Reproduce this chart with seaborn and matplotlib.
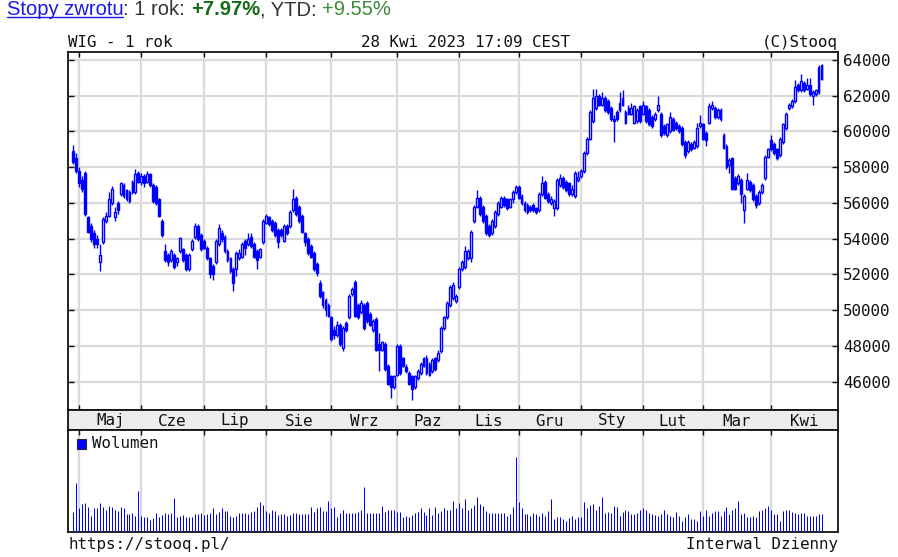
import numpy as np
import matplotlib
matplotlib.use("Agg")
import matplotlib.pyplot as plt
from matplotlib.lines import Line2D
from matplotlib.patches import Rectangle
import seaborn as sns

sns.set_theme(style="white")
plt.rcParams['font.family'] = ['DejaVu Sans Mono']

# ---------------- data ----------------
months = ["Maj", "Cze", "Lip", "Sie", "Wrz", "Paz", "Lis", "Gru", "Sty", "Lut", "Mar", "Kwi"]
month_start_idx = [2, 23, 44, 65, 87, 109, 130, 150, 171, 192, 212, 235]
price_ticks = [46000, 48000, 50000, 52000, 54000, 56000, 58000, 60000, 62000, 64000]

opens = [
    58900, 58500, 57800, 57300, 57700, 55200, 54700, 54300, 54000, 52700,
    53800, 55000, 55300, 56000, 55200, 56000, 56500, 57000, 56700, 56600,
    57200, 56600, 57700, 57200, 57500, 57200, 57600, 57000, 56900, 56200,
    55000, 53300, 53100, 52800, 53100, 52700, 53300, 53400, 53100, 52300,
    53400, 54100, 54700, 54200, 53900, 53500, 52900, 52500, 52700, 53700,
    54300, 54100, 53300, 52900, 52300, 52300, 52900, 53000, 53900, 53700,
    54100, 53700, 53300, 53000, 53800, 54900, 55200, 55000, 54900, 54500,
    54500, 53900, 54700, 54700, 55600, 56300, 55800, 55300, 54300, 54000,
    53600, 53200, 52600, 51500, 51000, 50600, 50300, 49600, 48900, 48600,
    49200, 47900, 49300, 49600, 50900, 51600, 50300, 49900, 50300, 50400,
    49800, 48900, 49500, 48100, 47800, 48100, 46900, 46300, 45700, 46400,
    48000, 47300, 46800, 46500, 46300, 45700, 46200, 46500, 46900, 47300,
    47000, 46600, 47300, 47200, 47700, 49000, 49600, 50300, 50700, 50500,
    51300, 52300, 52400, 52900, 52900, 55000, 55800, 56300, 55800, 55300,
    54700, 54300, 54700, 55400, 55800, 56300, 56200, 55800, 56200, 56600,
    56900, 56400, 56000, 55900, 55800, 55900, 55700, 55600, 56500, 57200,
    56500, 56000, 55700, 55700, 57000, 57400, 57200, 57100, 56500, 56400,
    57300, 57500, 57800, 58800, 59600, 60600, 61300, 62000, 61500, 61900,
    61700, 61300, 60700, 61100, 61200, 61500, 61100, 61300, 61000, 60500,
    60600, 61400, 61000, 61400, 61200, 60800, 60700, 61200, 61000, 60300,
    59800, 60000, 60700, 60500, 60300, 60200, 59400, 58900, 59300, 59100,
    59200, 60300, 60400, 59900, 60500, 61300, 61300, 60800, 61200, 59800,
    59200, 58100, 58500, 57400, 57100, 57300, 55600, 56800, 57200, 57000,
    56400, 56000, 56600, 57400, 58600, 59500, 59300, 59000, 58700, 59400,
    60200, 61300, 61400, 61700, 62600, 62300, 62700, 62400, 62600, 62000,
    62100, 62200, 63700,
]
highs = [
    59250, 58800, 58000, 57500, 57800, 55300, 54900, 54500, 54200, 53700,
    55200, 55500, 56600, 56950, 55800, 56100, 57200, 57100, 56800, 56700,
    57300, 57900, 57800, 57700, 57600, 57800, 57700, 57100, 57000, 56300,
    55100, 53700, 53200, 53400, 53200, 53000, 54100, 53500, 53200, 53200,
    54000, 54900, 54800, 54300, 54000, 53600, 53000, 52600, 54000, 54800,
    54500, 54200, 53400, 53000, 52400, 53300, 53400, 53800, 54000, 54300,
    54300, 53800, 53400, 53500, 55100, 55400, 55300, 55100, 55000, 54600,
    54600, 54800, 54800, 55600, 56800, 56400, 55900, 55400, 54400, 54100,
    53700, 53300, 52700, 51700, 51100, 50700, 50400, 49700, 49100, 49400,
    49300, 49100, 49400, 50900, 51300, 51700, 50400, 50600, 50400, 50500,
    49900, 49500, 49600, 48700, 48300, 48200, 47000, 46400, 46400, 48100,
    48100, 47400, 47000, 46600, 46400, 46400, 46700, 47100, 47400, 47500,
    47100, 47300, 47400, 47800, 49100, 49700, 50500, 51400, 51600, 50900,
    52400, 52800, 53600, 53400, 54500, 55900, 56700, 56400, 55900, 55400,
    54800, 55100, 55600, 56100, 56400, 56400, 56300, 56300, 56700, 57000,
    57000, 56500, 56100, 56000, 55900, 56000, 55800, 56600, 57500, 57300,
    56600, 56400, 56200, 57400, 57600, 57500, 57300, 57200, 57000, 57800,
    57800, 57900, 58900, 59700, 61200, 62400, 62400, 62100, 62200, 62000,
    61800, 61400, 60900, 61200, 62200, 62300, 61200, 61500, 61600, 61500,
    61300, 61500, 61700, 61500, 61300, 60900, 61100, 62000, 61100, 60400,
    60500, 61100, 60800, 60600, 60400, 60300, 59500, 59500, 59400, 59500,
    60450, 60900, 60500, 60000, 61600, 61700, 61400, 61300, 61300, 59900,
    59300, 58500, 58600, 57500, 57600, 57400, 56500, 57700, 57300, 57100,
    56500, 56700, 57100, 58700, 59100, 59800, 59400, 59100, 59700, 60500,
    61100, 61600, 61800, 62900, 62700, 63200, 62800, 63000, 63000, 62300,
    62400, 63700, 63800,
]
lows = [
    58200, 57700, 56900, 56600, 55300, 54300, 53800, 53500, 53500, 52200,
    53700, 54900, 55200, 55900, 55000, 55400, 56400, 56300, 56100, 56000,
    56500, 56500, 57100, 57000, 56900, 57100, 56900, 56000, 55900, 55200,
    54100, 52700, 52500, 52700, 52300, 52500, 53200, 52700, 52200, 52200,
    53300, 54000, 53900, 53300, 53400, 52800, 51800, 51700, 52600, 53600,
    53800, 53200, 52700, 52100, 51100, 51900, 52800, 52900, 53100, 53600,
    53500, 52900, 52300, 52900, 53700, 54800, 54700, 54400, 54100, 53500,
    54100, 53800, 54200, 54600, 55500, 55300, 54900, 54300, 53600, 53100,
    52900, 52200, 51900, 50700, 50100, 49700, 49600, 48300, 48400, 48500,
    48000, 47700, 48800, 49500, 50800, 49600, 49500, 49800, 48900, 49300,
    49100, 48800, 47700, 46600, 47700, 46600, 45800, 45100, 45600, 46300,
    46400, 46800, 46500, 45800, 45000, 45600, 46100, 46400, 46800, 46400,
    46300, 46500, 46600, 47100, 47600, 48900, 49500, 50200, 50600, 50400,
    51200, 52200, 52300, 52800, 52700, 54900, 55700, 55300, 54900, 54200,
    54100, 54200, 54600, 55300, 55700, 55800, 55600, 55700, 56000, 56500,
    56200, 55900, 55500, 55400, 55500, 55500, 55400, 55500, 56400, 56200,
    56000, 55900, 55300, 55600, 56900, 56800, 56600, 56400, 56400, 56300,
    57200, 57400, 57700, 58700, 59500, 60500, 61200, 61400, 61400, 61100,
    61000, 60600, 59400, 60600, 61100, 61400, 60400, 60900, 60900, 60400,
    60500, 60500, 60900, 60500, 60300, 60200, 60600, 61100, 59700, 59800,
    59700, 59900, 60000, 60100, 59900, 59200, 58500, 58800, 58900, 59000,
    59100, 60200, 59500, 59200, 60400, 61200, 60700, 60700, 60600, 59000,
    57900, 57700, 56700, 56700, 57000, 56000, 54900, 56700, 56600, 56100,
    55700, 55900, 56500, 57300, 58500, 58900, 58700, 58400, 58600, 59300,
    60100, 61200, 61300, 61600, 62200, 62200, 62200, 62300, 62000, 61500,
    62000, 62100, 62900,
]
closes = [
    58300, 57800, 57100, 56800, 55400, 54400, 54000, 53700, 53700, 53100,
    55100, 55300, 56200, 56800, 55500, 55600, 57100, 56400, 56200, 56100,
    56600, 57600, 57200, 57500, 57100, 57600, 57000, 56100, 56000, 55300,
    54200, 52800, 52700, 53300, 52400, 52900, 54050, 52800, 52300, 53100,
    53900, 54700, 54000, 53400, 53500, 52900, 52000, 52000, 53900, 54600,
    54000, 53300, 52800, 52200, 51500, 53200, 53200, 53700, 53500, 54000,
    53600, 53000, 52800, 53400, 55000, 55300, 54800, 54500, 54200, 53800,
    54200, 54700, 54300, 55500, 56200, 55400, 55000, 54400, 53800, 53200,
    53000, 52300, 52100, 50800, 50300, 50000, 49700, 48400, 48600, 49200,
    48100, 49000, 48900, 50800, 51200, 49700, 49600, 50400, 49000, 49400,
    49200, 49400, 47800, 47800, 48200, 46700, 45900, 45700, 46300, 48000,
    46500, 46900, 46600, 45900, 45600, 46300, 46600, 47000, 47300, 46500,
    46400, 47200, 46700, 47600, 49000, 49600, 50400, 51300, 51400, 50800,
    52300, 52700, 53300, 53300, 54400, 55800, 56300, 55400, 55000, 54300,
    54200, 55000, 55500, 56000, 56300, 55900, 55700, 56200, 56600, 56900,
    56300, 56000, 55600, 55500, 55600, 55600, 55500, 56500, 57100, 56300,
    56100, 56200, 56100, 57300, 57400, 56900, 56700, 56500, 56800, 57700,
    57460, 57800, 58800, 59600, 61100, 61900, 62000, 61500, 61900, 61200,
    61100, 60700, 60600, 60700, 61600, 61900, 60500, 61000, 61300, 61400,
    61200, 60600, 61500, 60600, 60400, 60300, 61000, 61500, 59800, 59900,
    60400, 60800, 60100, 60200, 60000, 59300, 58700, 59400, 59000, 59400,
    60200, 60500, 59600, 59500, 61400, 61500, 60800, 61200, 60700, 59100,
    58000, 58400, 56800, 56800, 57500, 56500, 56400, 57300, 56700, 56200,
    55900, 56600, 57000, 58600, 59000, 59000, 58800, 58500, 59600, 60400,
    61000, 61500, 61700, 62500, 62300, 62800, 62300, 62600, 62100, 62200,
    62300, 63600, 62950,
]
volume = [
    19, 48, 23, 27, 28, 24, 15, 23, 23, 28,
    24, 21, 25, 24, 21, 20, 24, 23, 17, 17,
    18, 15, 40, 15, 14, 14, 11, 13, 18, 14,
    16, 18, 17, 18, 33, 14, 15, 16, 14, 14,
    14, 17, 17, 18, 16, 17, 18, 23, 17, 19,
    23, 20, 20, 15, 14, 15, 18, 18, 18, 17,
    19, 20, 24, 29, 26, 20, 18, 21, 20, 16,
    17, 17, 15, 16, 18, 18, 17, 17, 17, 17,
    24, 19, 23, 24, 20, 20, 30, 23, 24, 14,
    18, 21, 18, 18, 18, 18, 19, 21, 44, 18,
    18, 18, 18, 18, 25, 19, 21, 21, 21, 19,
    19, 14, 15, 14, 16, 18, 19, 23, 19, 16,
    23, 16, 24, 18, 20, 23, 21, 21, 30, 23,
    28, 23, 32, 21, 23, 26, 34, 27, 25, 20,
    18, 18, 18, 18, 18, 18, 15, 17, 24, 74,
    29, 23, 17, 17, 15, 18, 17, 15, 18, 15,
    20, 32, 12, 14, 14, 12, 10, 13, 15, 12,
    14, 14, 29, 23, 26, 27, 21, 25, 34, 18,
    19, 18, 25, 24, 15, 19, 21, 20, 17, 17,
    18, 21, 23, 21, 18, 17, 16, 15, 17, 21,
    17, 15, 14, 19, 15, 10, 14, 17, 12, 12,
    10, 20, 15, 21, 15, 18, 20, 20, 15, 20,
    24, 17, 21, 23, 30, 17, 18, 14, 14, 15,
    14, 20, 21, 23, 25, 21, 17, 17, 10, 20,
    21, 21, 19, 18, 17, 18, 18, 15, 15, 15,
    15, 17, 17,
]

# ---------------- layout ----------------
W, H = 898, 557
BLUE = "#0000ff"
GRID = "#dadada"
fig = plt.figure(figsize=(W / 100, H / 100), dpi=100)
fig.patch.set_facecolor("white")


def rect(x0, y0, x1, y1):
    return [x0 / W, 1 - y1 / H, (x1 - x0) / W, (y1 - y0) / H]


ax = fig.add_axes(rect(68, 52, 838, 410))
axm = fig.add_axes(rect(68, 410, 838, 430))
axv = fig.add_axes(rect(68, 430, 838, 532))

n = len(closes)
idx = np.arange(n)
o = np.array(opens, float)
c = np.array(closes, float)
hi = np.array(highs, float)
lo = np.array(lows, float)

XLIM = (-1.70, 257.55)
MONO = "DejaVu Sans Mono"
FS = 11.4

# ---- price candles ----
ax.vlines(idx, lo, hi, color=BLUE, lw=1.0, zorder=2)
up = c >= o
bottom = np.minimum(o, c)
height = np.abs(c - o)
ax.bar(idx[up], height[up], bottom=bottom[up], width=0.64,
       facecolor="white", edgecolor=BLUE, linewidth=1.0, zorder=3)
ax.bar(idx[~up], height[~up], bottom=bottom[~up], width=0.64,
       facecolor=BLUE, edgecolor=BLUE, linewidth=1.0, zorder=3)

ax.set_xlim(*XLIM)
ax.set_ylim(44418, 64448)
ax.set_xticks(month_start_idx)
ax.set_yticks(price_ticks)
ax.set_yticklabels([str(v) for v in price_ticks], fontsize=FS, family=MONO, color="#111111")
ax.grid(True, color=GRID, lw=1.6)
ax.set_axisbelow(True)
ax.tick_params(axis="x", which="both", direction="in", length=3.5, width=1,
               top=True, bottom=True, labelbottom=False, color="#111111")
ax.tick_params(axis="y", which="both", direction="in", length=4, width=1,
               left=True, right=True, labelleft=False, labelright=True, pad=3.5,
               color="#111111")

# ---- month strip ----
axm.set_facecolor("#ececec")
axm.set_xlim(*XLIM)
axm.set_ylim(0, 1)
axm.set_xticks([])
axm.set_yticks([])
bounds = month_start_idx + [XLIM[1]]
for k, name in enumerate(months):
    xm = (bounds[k] + bounds[k + 1]) / 2
    axm.text(xm, 0.45, name, ha="center", va="center", fontsize=FS, family=MONO, color="#111111")

# ---- volume (thin 1-px bars) ----
sns.despine(ax=axv, left=False, bottom=False, right=False, top=False)
vl = axv.vlines(idx, 0, volume, color=BLUE, lw=0.72, zorder=3)
vl.set_snap(True)
axv.set_xlim(*XLIM)
axv.set_ylim(-1.2, 101)
axv.set_xlabel("")
axv.set_ylabel("")
axv.set_xticks(month_start_idx)
axv.set_xticklabels([])
axv.set_yticks([])
axv.grid(True, axis="x", color=GRID, lw=1.6)
axv.set_axisbelow(True)
axv.tick_params(axis="x", direction="in", length=3.5, width=1, top=True, bottom=False,
                labelbottom=False, color="#111111")
axv.add_patch(Rectangle((0.0117, 0.815), 0.0123, 0.098, transform=axv.transAxes,
                        facecolor=BLUE, edgecolor="#222244", lw=0.8, zorder=5))
axv.text(0.0315, 0.865, "Wolumen", transform=axv.transAxes, ha="left", va="center",
         fontsize=FS, family=MONO, color="#111111")

for a in (ax, axm, axv):
    for s in a.spines.values():
        s.set_color("#111111")
        s.set_linewidth(1.3)
        s.set_visible(True)

# ---- header / footer texts ----
def fy(ypix):
    return 1 - ypix / H

fig.text(68 / W, fy(46.5), "WIG - 1 rok", ha="left", va="baseline", fontsize=FS, family=MONO, color="#111111")
fig.text(361 / W, fy(46.5), "28 Kwi 2023 17:09 CEST", ha="left", va="baseline", fontsize=FS, family=MONO, color="#111111")
fig.text(838 / W, fy(46.5), "(C)Stooq", ha="right", va="baseline", fontsize=FS, family=MONO, color="#111111")
fig.text(68 / W, fy(549.5), "https://stooq.pl/", ha="left", va="baseline", fontsize=FS, family=MONO, color="#111111")
fig.text(838 / W, fy(549.5), "Interwal Dzienny", ha="right", va="baseline", fontsize=FS, family=MONO, color="#111111")

# ---- top return line ----
fig.canvas.draw()
r = fig.canvas.get_renderer()
TOPFS = 14.5
pieces = [
    ("Stopy zwrotu", "#1a1ae6", "normal"),
    (": 1 rok: ", "#333333", "normal"),
    ("+7.97%", "#176a17", "bold"),
    (", YTD: ", "#333333", "normal"),
    ("+9.55%", "#3a8a3a", "normal"),
]
xpix = 6.7
base = 15.0
for k, (s, col, wt) in enumerate(pieces):
    t = fig.text(xpix / W, fy(base), s, color=col, fontweight=wt, fontsize=TOPFS,
                 family="Liberation Sans", ha="left", va="baseline")
    probe = fig.text(0, 0, s + "|", fontweight=wt, fontsize=TOPFS, family="Liberation Sans")
    bar = fig.text(0, 0, "|", fontweight=wt, fontsize=TOPFS, family="Liberation Sans")
    wpx = probe.get_window_extent(renderer=r).width - bar.get_window_extent(renderer=r).width
    probe.remove()
    bar.remove()
    if k == 0:
        fig.add_artist(Line2D([xpix / W, (xpix + wpx) / W], [fy(17.2), fy(17.2)],
                              color="#1a1ae6", lw=1.0, transform=fig.transFigure))
    xpix += wpx

fig.savefig("out.png", dpi=100)
